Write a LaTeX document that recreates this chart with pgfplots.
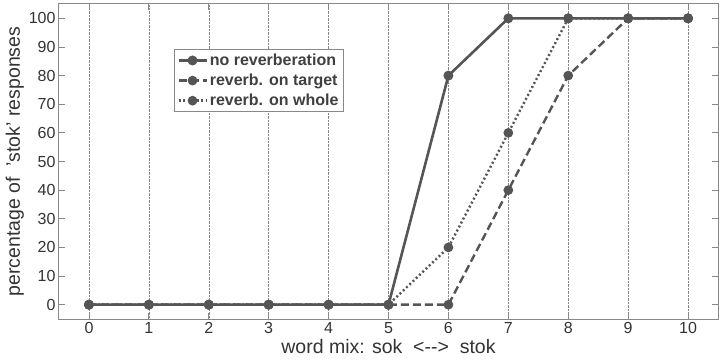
\documentclass[border=0pt]{standalone}
\usepackage{fontspec}
\setmainfont{Liberation Sans}
\usepackage{pgfplots}
\pgfplotsset{compat=1.18}
\definecolor{ln}{HTML}{555555}
\definecolor{fr}{HTML}{888888}
\begin{document}
\begin{tikzpicture}
\begin{axis}[name=ax,
  scale only axis, width=659pt, height=315pt,
  xmin=-0.5, xmax=10.5, ymin=-5, ymax=105,
  xtick={0,...,10}, ytick={0,10,...,100},
  tick align=inside, tick pos=both,
  major tick length=6pt,
  xmajorgrids, grid style={densely dotted, fr, line width=0.5pt},
  axis line style={fr, line width=1pt},
  every tick/.style={fr, line width=0.8pt},
  tick label style={font=\fontsize{16}{18}\selectfont, text=black!80},
  /pgf/number format/assume math mode=true,
  xlabel={word mix: sok \ <-{}->\ \ stok},
  ylabel={percentage of \ 'stok' responses},
  label style={font=\fontsize{19.5}{22}\selectfont, text=black!80},
  xlabel style={yshift=1pt},
  ylabel style={yshift=-2pt},
  legend style={at={(0.175,0.857)}, anchor=north west, draw=fr, line width=0.8pt,
    font=\bfseries\fontsize{16}{19}\selectfont, text=black!75, inner sep=2.5pt,
    row sep=3pt, cells={anchor=west}, nodes={inner xsep=2pt}},
  legend cell align=left,
  legend image code/.code={\draw[mark repeat=2,mark phase=2] plot coordinates {(0pt,0pt)(14pt,0pt)(28pt,0pt)};},
  every axis plot/.append style={ln, mark=*, mark size=3.6pt, mark options={solid, fill=ln}},
]
\addplot[line width=2.6pt] coordinates {(0,0)(1,0)(2,0)(3,0)(4,0)(5,0)(6,80)(7,100)(8,100)(9,100)(10,100)};
\addlegendentry{no reverberation}
\addplot[line width=2.4pt, dash pattern=on 8pt off 4pt] coordinates {(0,0)(1,0)(2,0)(3,0)(4,0)(5,0)(6,0)(7,40)(8,80)(9,100)(10,100)};
\addlegendentry{reverb. on target}
\addplot[line width=2.4pt, dash pattern=on 2pt off 2.5pt] coordinates {(0,0)(1,0)(2,0)(3,0)(4,0)(5,0)(6,20)(7,60)(8,100)(9,100)(10,100)};
\addlegendentry{reverb. on whole}
\end{axis}
\pgfresetboundingbox
\useasboundingbox ([xshift=-59pt,yshift=-40pt]ax.south west) rectangle ([xshift=5pt,yshift=4pt]ax.north east);
\end{tikzpicture}
\end{document}
